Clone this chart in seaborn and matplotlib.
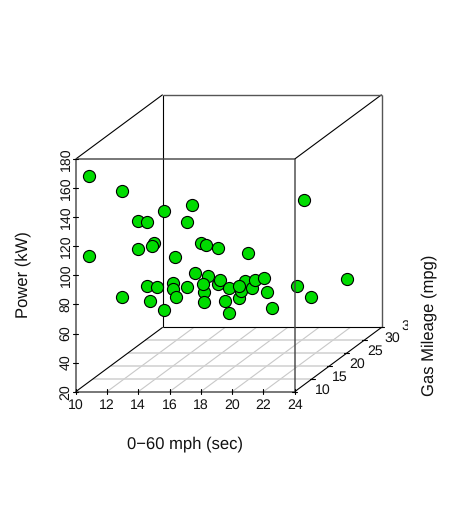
import numpy as np
import pandas as pd
import seaborn as sns
import matplotlib
matplotlib.use("Agg")
import matplotlib.pyplot as plt
from matplotlib.transforms import Bbox

# === data (depth is a best guess) ===
sec = [10.87, 12.53, 12.85, 13.43, 13.88, 15.21, 15.32, 22.37, 10.87, 12.87,
       13.23, 13.77, 13.66, 15.77, 16.55, 16.89, 18.35, 14.31, 15.12, 13.55,
       12.78, 12.99, 12.88, 13.76, 14.88, 14.12, 15.11, 15.91, 16.01, 16.45,
       16.56, 17.47, 16.01, 17.25, 18.13, 18.03, 18.89, 20.13, 23.36, 20.58,
       11.20, 11.43, 13.09, 14.22, 15.54, 12.33, 15.33, 18.12]
mpg = [10, 12, 15, 15, 18, 20, 18, 20, 10, 15,
       18, 15, 22, 20, 18, 20, 22, 25, 25, 22,
       18, 20, 25, 25, 25, 28, 28, 25, 30, 25,
       28, 25, 30, 28, 25, 28, 25, 28, 28, 30,
       18, 25, 25, 28, 28, 25, 30, 30]
kw = [168.3, 154.7, 128.3, 127.6, 130.3, 130.9, 122.7, 133.9, 113.3, 109.3,
      108.3, 111.6, 91.4, 104.3, 106.7, 101.3, 93.9, 74.9, 72.8, 73.7,
      78.3, 74.1, 64.3, 65.2, 62.0, 62.0, 62.0, 70.2, 49.0, 64.5,
      57.4, 69.4, 57.3, 59.6, 70.0, 66.1, 62.2, 61.0, 65.8, 49.5,
      70.7, 55.6, 58.8, 50.0, 50.7, 49.6, 38.7, 41.9]

sec_ticks = [10, 12, 14, 16, 18, 20, 22, 24]
mpg_ticks = [10, 15, 20, 25, 30, 35]
kw_ticks = [20, 40, 60, 80, 100, 120, 140, 160, 180]

# === oblique projection, like scatterplot3d ===
W, H = 471, 507
left_px, bottom_px = 75.7, 391.7
px_sec, px_kw = 15.64, 1.454
shift_sec = 87 / px_sec
shift_kw = 64.4 / px_kw


def proj(s, m, k):
    f = (np.asarray(m, dtype=float) - mpg_ticks[0]) / (mpg_ticks[-1] - mpg_ticks[0])
    return np.asarray(s, dtype=float) + f * shift_sec, np.asarray(k, dtype=float) + f * shift_kw


def seg(ax, a, b, **kw_line):
    xs, ys = proj([a[0], b[0]], [a[1], b[1]], [a[2], b[2]])
    ax.plot(xs, ys, solid_capstyle="butt", **kw_line)


sns.set_theme(style="white")
plt.rcParams["font.family"] = ["Liberation Sans", "DejaVu Sans"]
plt.rcParams["text.hinting"] = "none"

fig = plt.figure(figsize=(W / 100, H / 100), dpi=100)
ax = fig.add_axes([0, 0, 1, 1])
ax.set_xlim(10 - left_px / px_sec, 10 + (W - left_px) / px_sec)
ax.set_ylim(20 - (H - bottom_px) / px_kw, 20 + bottom_px / px_kw)
ax.axis("off")

s0, s1 = sec_ticks[0], sec_ticks[-1]
m0, m1 = mpg_ticks[0], mpg_ticks[-1]
k0, k1 = kw_ticks[0], kw_ticks[-1]

# floor grid
for s in sec_ticks[1:-1]:
    seg(ax, (s, m0, k0), (s, m1, k0), color="#c8c8c8", lw=0.8, zorder=1)
for m in mpg_ticks[1:-1]:
    seg(ax, (s0, m, k0), (s1, m, k0), color="#d0d0d0", lw=1.1, zorder=1)

# back of the box
black = dict(color="black", lw=0.8, zorder=2)
seg(ax, (s0, m0, k0), (s0, m1, k0), **black)
seg(ax, (s1, m0, k0), (s1, m1, k0), **black)
seg(ax, (s0, m1, k0), (s1, m1, k0), **black)
seg(ax, (s0, m1, k0), (s0, m1, k1), **black)
seg(ax, (s0, m0, k1), (s0, m1, k1), **black)
seg(ax, (s1, m0, k1), (s1, m1, k1), **black)
back = dict(color="#555555", lw=1.0, zorder=2)
seg(ax, (s0, m1, k1), (s1, m1, k1), **back)
seg(ax, (s1, m1, k0), (s1, m1, k1), **back)

# points
df = pd.DataFrame({"sec": sec, "mpg": mpg, "kw": kw})
df["sx"], df["sy"] = proj(df["sec"], df["mpg"], df["kw"])
sns.scatterplot(data=df, x="sx", y="sy", s=76, color="#00dc00", edgecolor="black",
                linewidth=0.8, legend=False, zorder=3, ax=ax)

# front of the box goes over the points
front = dict(color="#444444", lw=1.2, alpha=0.85, zorder=4)
seg(ax, (s0, m0, k0), (s1, m0, k0), **front)
seg(ax, (s0, m0, k1), (s1, m0, k1), **front)
seg(ax, (s0, m0, k0), (s0, m0, k1), **front)
seg(ax, (s1, m0, k0), (s1, m0, k1), **front)

# ticks and tick labels
tick_fs = 10.2
tick = dict(color="black", lw=0.8, zorder=5)
sec_h = 2.5 / px_kw
for s in sec_ticks:
    ax.plot([s, s], [k0 - sec_h, k0 + sec_h], **tick)
    ax.text(s, k0 - 13.5 / px_kw, str(s), ha="center", va="center", fontsize=tick_fs, color="#111111")
kw_w = 2.5 / px_sec
for k in kw_ticks:
    ax.plot([s0 - kw_w, s0 + kw_w], [k, k], **tick)
    ax.text(s0 - 10 / px_sec, k, str(k), ha="center", va="center", rotation=90,
            fontsize=tick_fs, color="#111111")
for m in mpg_ticks:
    x, y = proj(s1, m, k0)
    ax.plot([x - kw_w, x + kw_w], [y, y], **tick)
    t = ax.text(x + 28 / px_sec, y + 1.5 / px_kw, str(m), ha="center", va="center",
                fontsize=tick_fs, color="#111111", clip_on=True)
    # the last label runs off the plot region in the original
    t.set_clip_box(Bbox([[0, 0], [407.5, H]]))

# axis titles
title_fs = 12
ax.text(10 + (185 - left_px) / px_sec, 20 + (bottom_px - 444) / px_kw, "0\u221260 mph (sec)",
        ha="center", va="center", fontsize=title_fs, color="#111111")
ax.text(10 + (23 - left_px) / px_sec, 20 + (bottom_px - 275) / px_kw, "Power (kW)",
        ha="center", va="center", rotation=90, fontsize=title_fs, color="#111111")
ax.text(10 + (429 - left_px) / px_sec, 20 + (bottom_px - 325) / px_kw, "Gas Mileage (mpg)",
        ha="center", va="center", rotation=90, fontsize=title_fs, color="#111111")

fig.savefig("out.png", dpi=100)
